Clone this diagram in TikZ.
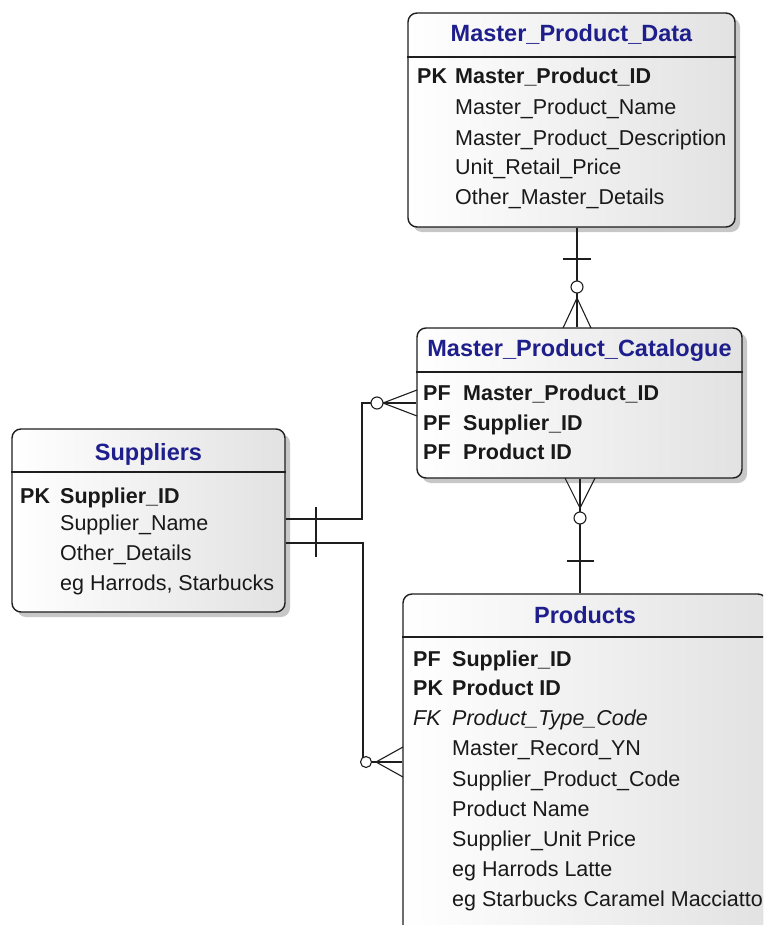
\documentclass[tikz,border=0pt]{standalone}
\usepackage{fontspec}
\setmainfont{Liberation Sans}
\usepackage{xcolor}
\usepackage{tikz}
\usetikzlibrary{shadows}
\usetikzlibrary{calc}

\definecolor{titleblue}{RGB}{30,30,140}
\definecolor{boxgray}{RGB}{226,226,226}
\definecolor{inkline}{RGB}{30,30,30}

\tikzset{
  entity/.style={draw=inkline, line width=1.4pt, rounded corners=9pt, left color=white, right color=boxgray, inner sep=0pt,
    drop shadow={shadow xshift=5pt, shadow yshift=-5pt, fill=black!22, opacity=1}},
  sepline/.style={draw=inkline, line width=2pt},
  etitle/.style={font=\fontsize{23.5}{28}\selectfont\bfseries, text=titleblue, anchor=base, inner sep=0pt},
  keyfld/.style={font=\fontsize{21.5}{26}\selectfont\bfseries, text=black!90, anchor=base west, inner sep=0pt},
  fld/.style={font=\fontsize{21.5}{26}\selectfont, text=black!90, anchor=base west, inner sep=0pt},
  fkfld/.style={font=\fontsize{21.5}{26}\selectfont\itshape, text=black!90, anchor=base west, inner sep=0pt},
  rel/.style={draw=inkline, line width=1.4pt},
  crow/.style={draw=inkline, line width=1.1pt},
  optcirc/.style={draw=inkline, line width=1.1pt, fill=white}
}

\begin{document}
\begin{tikzpicture}[x=1pt,y=-1pt]
	\useasboundingbox (0,0) rectangle (763,925);
	\clip (0,0) rectangle (763,925);

	% entity boxes
	\node[entity, minimum width=327pt, minimum height=214pt] (mpd) at (571.5,120) {};
	\node[entity, minimum width=325pt, minimum height=150pt] (mpc) at (579.5,403) {};
	\node[entity, minimum width=273pt, minimum height=183pt] (sup) at (148.5,520.5) {};
	\node[entity, minimum width=364pt, minimum height=340pt] (prod) at (585,764) {};

	% Master_Product_Data
	\node[etitle] (mpdT) at (571.5,41.5) {Master\_Product\_Data};
	\draw[sepline] (mpd.west |- 0,57) -- (mpd.east |- 0,57);
	\node[keyfld] (mpdK1) at (417,84) {PK};
	\node[keyfld] (mpd1) at (455,84) {Master\_Product\_ID};
	\node[fld] (mpd2) at (455,115) {Master\_Product\_Name};
	\node[fld] (mpd3) at (455,146) {Master\_Product\_Description};
	\node[fld] (mpd4) at (455,175) {Unit\_Retail\_Price};
	\node[fld] (mpd5) at (455,205) {Other\_Master\_Details};

	% Master_Product_Catalogue
	\node[etitle] (mpcT) at (579.5,356.5) {Master\_Product\_Catalogue};
	\draw[sepline] (mpc.west |- 0,372) -- (mpc.east |- 0,372);
	\node[keyfld] (mpcK1) at (423,400) {PF};
	\node[keyfld] (mpc1) at (463,400) {Master\_Product\_ID};
	\node[keyfld] (mpcK2) at (423,430) {PF};
	\node[keyfld] (mpc2) at (463,430) {Supplier\_ID};
	\node[keyfld] (mpcK3) at (423,459) {PF};
	\node[keyfld] (mpc3) at (463,459) {Product ID};

	% Suppliers
	\node[etitle] (supT) at (148.5,460.5) {Suppliers};
	\draw[sepline] (sup.west |- 0,472) -- (sup.east |- 0,472);
	\node[keyfld] (supK1) at (20,503) {PK};
	\node[keyfld] (sup1) at (60,503) {Supplier\_ID};
	\node[fld] (sup2) at (60,530) {Supplier\_Name};
	\node[fld] (sup3) at (60,560) {Other\_Details};
	\node[fld] (sup4) at (60,590) {eg Harrods, Starbucks};

	% Products
	\node[etitle] (prodT) at (585,623.5) {Products};
	\draw[sepline] (prod.west |- 0,637) -- (prod.east |- 0,637);
	\node[keyfld] (prodK1) at (413,666) {PF};
	\node[keyfld] (prod1) at (452,666) {Supplier\_ID};
	\node[keyfld] (prodK2) at (413,695) {PK};
	\node[keyfld] (prod2) at (452,695) {Product ID};
	\node[fkfld] (prodK3) at (413,725) {FK};
	\node[fkfld] (prod3) at (452,725) {Product\_Type\_Code};
	\node[fld] (prod4) at (452,755) {Master\_Record\_YN};
	\node[fld] (prod5) at (452,786) {Supplier\_Product\_Code};
	\node[fld] (prod6) at (452,816) {Product Name};
	\node[fld] (prod7) at (452,846) {Supplier\_Unit Price};
	\node[fld] (prod8) at (452,876) {eg Harrods Latte};
	\node[fld] (prod9) at (452,906) {eg Starbucks Caramel Macciatto};

	% relationship lines
	\coordinate (c1) at (577,0);
	\coordinate (c2) at (580,0);
	\coordinate (j1) at (362,403);
	\coordinate (j2) at (363,762);

	% Master_Product_Data -- Master_Product_Catalogue
	\draw[rel] (c1 |- mpd.south) -- (c1 |- mpc.north);
	\draw[rel] (563,259) -- (591,259);
	\draw[crow] (577,298) -- (563,328);
	\draw[crow] (577,298) -- (591,328);
	\draw[optcirc] (577,287) circle (6pt);

	% Master_Product_Catalogue -- Products
	\draw[rel] (c2 |- mpc.south) -- (c2 |- prod.north);
	\draw[rel] (567,561) -- (594,561);
	\draw[crow] (580,508) -- (565,478);
	\draw[crow] (580,508) -- (595,478);
	\draw[optcirc] (580,518) circle (6pt);

	% Suppliers -- Master_Product_Catalogue
	\draw[rel] (sup.east |- 0,519) -| (j1) -- (mpc.west |- j1);
	\draw[rel] (316,507) -- (316,531);
	\draw[crow] (383,403) -- (417,390);
	\draw[crow] (383,403) -- (417,416);
	\draw[optcirc] (377,403) circle (6pt);

	% Suppliers -- Products
	\draw[rel] (sup.east |- 0,543) -| (j2) -- (prod.west |- j2);
	\draw[rel] (316,531) -- (316,557);
	\draw[crow] (376,762) -- (403,747);
	\draw[crow] (376,762) -- (403,777);
	\draw[optcirc] (366,762) circle (5.5pt);
\end{tikzpicture}
\end{document}
